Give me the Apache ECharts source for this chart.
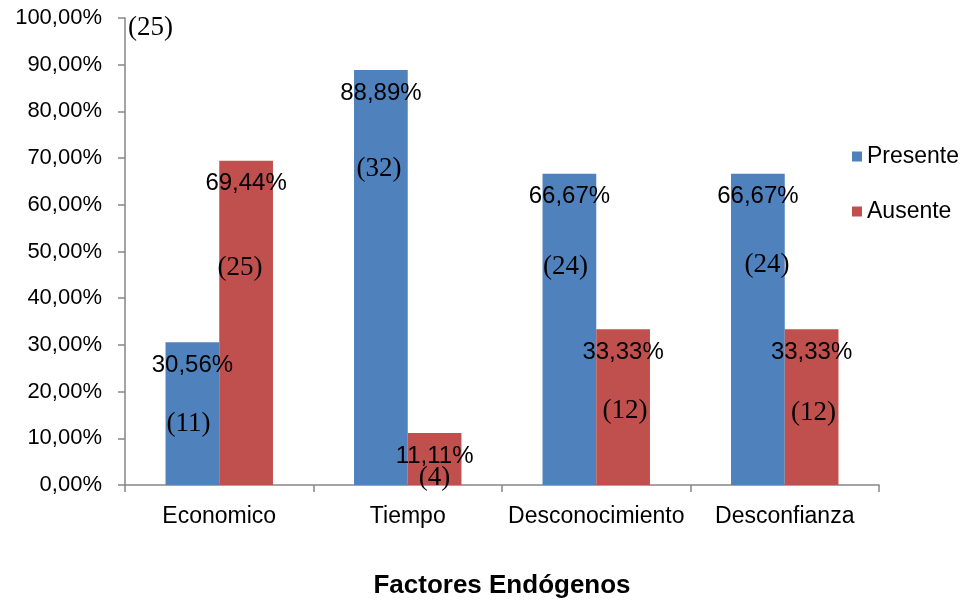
<!DOCTYPE html>
<html>
<head>
<meta charset="utf-8">
<script src="https://cdn.jsdelivr.net/npm/echarts@6/dist/echarts.min.js"></script>
<style>
  html, body { margin: 0; padding: 0; background: #fff; }
  #chart { width: 972px; height: 604px; }
</style>
</head>
<body>
<div id="chart"></div>
<script>
// Categories and values
var categories = ['Economico', 'Tiempo', 'Desconocimiento', 'Desconfianza'];
var presentePct = [30.56, 88.89, 66.67, 66.67];
var ausentePct = [69.44, 11.11, 33.33, 33.33];
var presenteCount = [11, 32, 24, 24];
var ausenteCount = [25, 4, 12, 12];
var yTicks = [0, 10, 20, 30, 40, 50, 60, 70, 80, 90, 100];

// Placement of the count labels inside each bar: [distance below bar top, x shift]
var presenteCountPlace = [[68, -4], [86, -2], [80, -4], [78, 9]];
var ausenteCountPlace = [[94, -6], [31, 0], [68, 2], [70, 2]];

var BLUE = '#4F81BD';
var RED = '#C0504D';
var SANS = 'Liberation Sans, Arial, sans-serif';
var SERIF = 'Liberation Serif, Times New Roman, serif';

function pct(v) { return v.toFixed(2).replace('.', ',') + '%'; }

function countItems(pcts, counts, place) {
  return pcts.map(function (v, i) {
    return {
      value: v,
      label: {
        show: true,
        position: 'insideTop',
        distance: place[i][0],
        offset: [place[i][1], 0],
        formatter: '(' + counts[i] + ')'
      }
    };
  });
}

var chart = echarts.init(document.getElementById('chart'), null, { renderer: 'canvas' });

var pctLabel = {
  show: true,
  position: 'insideTop',
  distance: 11,
  color: '#000',
  fontFamily: SANS,
  fontSize: 24,
  formatter: function (p) { return pct(p.value); }
};

var countLabelStyle = {
  color: '#000',
  fontFamily: SERIF,
  fontSize: 27
};

chart.setOption({
  animation: false,
  backgroundColor: '#fff',
  grid: { left: 125, right: 93, top: 18, bottom: 118, containLabel: false },
  legend: {
    data: ['Presente', 'Ausente'],
    orient: 'vertical',
    left: 847,
    top: 140,
    itemWidth: 10,
    itemHeight: 10,
    itemGap: 32,
    icon: 'rect',
    textStyle: { fontFamily: SANS, fontSize: 23, color: '#000', padding: [0, 0, 0, 0] }
  },
  xAxis: [
    {
      type: 'category',
      data: categories,
      name: 'Factores Endógenos',
      nameLocation: 'middle',
      nameGap: 88,
      nameTextStyle: { fontFamily: SANS, fontSize: 26, fontWeight: 'bold', color: '#000' },
      axisLine: { lineStyle: { color: '#868686', width: 1.5 } },
      axisTick: { show: true, length: 7, lineStyle: { color: '#868686', width: 1.5 } },
      axisLabel: { interval: 0, fontFamily: SANS, fontSize: 23, color: '#000', margin: 20 }
    },
    {
      type: 'category',
      data: categories,
      show: false
    }
  ],
  yAxis: {
    type: 'value',
    min: 0,
    max: 100,
    interval: 10,
    axisLine: { show: true, lineStyle: { color: '#868686', width: 1.5 } },
    axisTick: { show: true, length: 7, lineStyle: { color: '#868686', width: 1.5 } },
    splitLine: { show: false },
    axisLabel: {
      fontFamily: SANS, fontSize: 22, color: '#000', margin: 23,
      padding: [3, 0, 0, 0],
      customValues: yTicks,
      formatter: function (v) { return pct(v); }
    }
  },
  graphic: [
    {
      type: 'text',
      left: 128,
      top: 14,
      style: {
        text: '(' + ausenteCount[0] + ')',
        fontFamily: SERIF,
        fontSize: 27,
        fill: '#000'
      }
    }
  ],
  series: [
    {
      name: 'Presente',
      type: 'bar',
      xAxisIndex: 0,
      data: presentePct,
      barGap: 0,
      barCategoryGap: '43%',
      itemStyle: { color: BLUE },
      label: pctLabel
    },
    {
      name: 'Ausente',
      type: 'bar',
      xAxisIndex: 0,
      data: ausentePct,
      barGap: 0,
      barCategoryGap: '43%',
      itemStyle: { color: RED },
      label: pctLabel
    },
    {
      name: 'PresenteN',
      type: 'bar',
      xAxisIndex: 1,
      data: countItems(presentePct, presenteCount, presenteCountPlace),
      barGap: 0,
      barCategoryGap: '43%',
      itemStyle: { color: 'rgba(0,0,0,0)' },
      label: countLabelStyle,
      silent: true,
      z: 3
    },
    {
      name: 'AusenteN',
      type: 'bar',
      xAxisIndex: 1,
      data: countItems(ausentePct, ausenteCount, ausenteCountPlace),
      barGap: 0,
      barCategoryGap: '43%',
      itemStyle: { color: 'rgba(0,0,0,0)' },
      label: countLabelStyle,
      silent: true,
      z: 3
    }
  ]
});
</script>
</body>
</html>
